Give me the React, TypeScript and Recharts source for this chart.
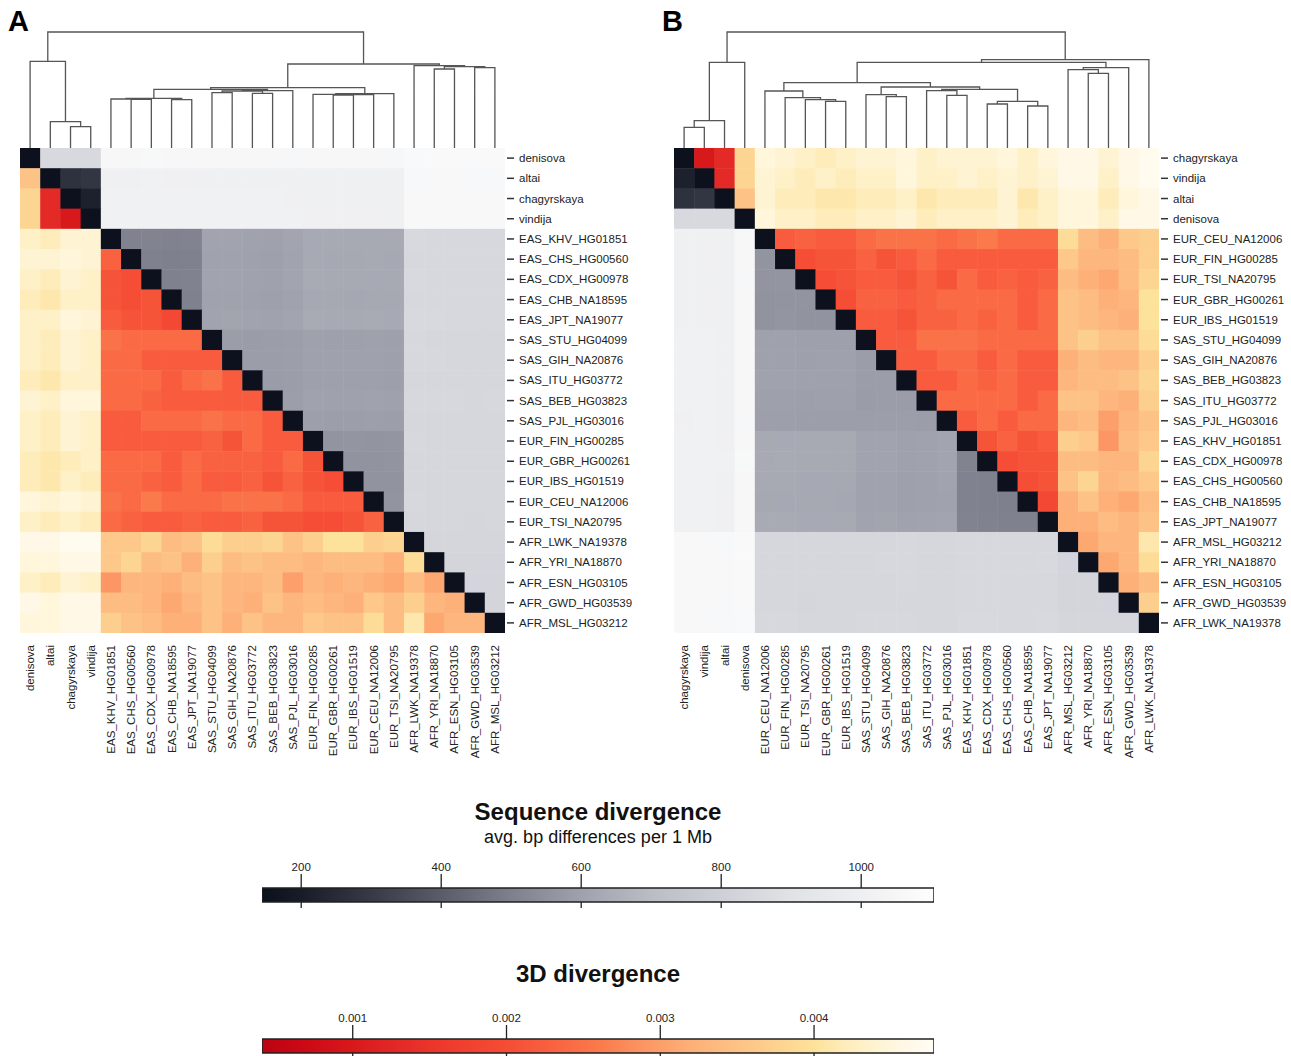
import React from "react";
import {
  ScatterChart,
  Scatter,
  XAxis,
  YAxis,
  LineChart,
  Line,
  ComposedChart,
  ReferenceArea,
} from "recharts";

// sample order of panel A (clustered on sequence divergence)
const SAMPLES_A = [
  "denisova", "altai", "chagyrskaya", "vindija",
  "EAS_KHV_HG01851", "EAS_CHS_HG00560", "EAS_CDX_HG00978", "EAS_CHB_NA18595", "EAS_JPT_NA19077",
  "SAS_STU_HG04099", "SAS_GIH_NA20876", "SAS_ITU_HG03772", "SAS_BEB_HG03823", "SAS_PJL_HG03016",
  "EUR_FIN_HG00285", "EUR_GBR_HG00261", "EUR_IBS_HG01519", "EUR_CEU_NA12006", "EUR_TSI_NA20795",
  "AFR_LWK_NA19378", "AFR_YRI_NA18870", "AFR_ESN_HG03105", "AFR_GWD_HG03539", "AFR_MSL_HG03212",
];

// sample order of panel B (clustered on 3D divergence)
const SAMPLES_B = [
  "chagyrskaya", "vindija", "altai", "denisova",
  "EUR_CEU_NA12006", "EUR_FIN_HG00285", "EUR_TSI_NA20795", "EUR_GBR_HG00261", "EUR_IBS_HG01519",
  "SAS_STU_HG04099", "SAS_GIH_NA20876", "SAS_BEB_HG03823", "SAS_ITU_HG03772", "SAS_PJL_HG03016",
  "EAS_KHV_HG01851", "EAS_CDX_HG00978", "EAS_CHS_HG00560", "EAS_CHB_NA18595", "EAS_JPT_NA19077",
  "AFR_MSL_HG03212", "AFR_YRI_NA18870", "AFR_ESN_HG03105", "AFR_GWD_HG03539", "AFR_LWK_NA19378",
];

// sequence divergence (bp per Mb), lower triangle in SAMPLES_A order: row i holds pairs with j < i
const SEQ_DIV: number[][] = [
  [],
  [848],
  [852, 272],
  [850, 285, 215],
  [1058, 1010, 1013, 1014],
  [1057, 1009, 1012, 1013, 505],
  [1059, 1011, 1014, 1015, 508, 502],
  [1058, 1010, 1013, 1014, 506, 500, 503],
  [1058, 1010, 1013, 1014, 510, 504, 507, 502],
  [1056, 1008, 1011, 1012, 606, 604, 607, 604, 608],
  [1056, 1008, 1011, 1012, 608, 605, 608, 603, 609, 588],
  [1056, 1008, 1011, 1012, 604, 601, 605, 600, 606, 586, 587],
  [1056, 1008, 1011, 1012, 600, 598, 601, 597, 603, 587, 589, 585],
  [1055, 1007, 1010, 1011, 610, 607, 610, 605, 612, 590, 590, 588, 591],
  [1056, 1006, 1009, 1010, 630, 628, 631, 626, 633, 600, 601, 598, 603, 594],
  [1056, 1006, 1009, 1010, 628, 626, 629, 624, 630, 598, 600, 596, 601, 592, 562],
  [1056, 1006, 1009, 1010, 627, 625, 628, 623, 629, 597, 599, 596, 600, 591, 563, 558],
  [1056, 1006, 1009, 1010, 629, 627, 630, 625, 631, 599, 600, 597, 602, 593, 562, 557, 558],
  [1055, 1005, 1008, 1009, 628, 626, 629, 624, 630, 597, 598, 595, 600, 591, 565, 560, 559, 560],
  [1068, 1060, 1062, 1063, 848, 846, 848, 845, 849, 842, 843, 841, 844, 840, 842, 841, 840, 842, 839],
  [1070, 1062, 1064, 1065, 847, 845, 847, 844, 848, 841, 842, 840, 843, 839, 841, 840, 839, 841, 838, 832],
  [1070, 1062, 1064, 1065, 846, 844, 846, 843, 847, 840, 841, 839, 842, 838, 840, 839, 838, 840, 837, 831, 826],
  [1069, 1061, 1063, 1064, 845, 843, 845, 842, 846, 839, 840, 838, 841, 837, 839, 838, 837, 839, 836, 832, 829, 830],
  [1069, 1061, 1063, 1064, 846, 844, 846, 843, 847, 840, 841, 839, 842, 838, 840, 839, 838, 840, 837, 833, 830, 829, 827],
];

// 3D divergence, lower triangle in SAMPLES_A order
const D3_DIV: number[][] = [
  [],
  [0.0035],
  [0.0038, 0.0013],
  [0.0038, 0.0013, 0.001],
  [0.0043, 0.0042, 0.0044, 0.0044],
  [0.0044, 0.0044, 0.0045, 0.0044, 0.0023],
  [0.0043, 0.0042, 0.0044, 0.0043, 0.0021, 0.002],
  [0.0042, 0.0041, 0.0043, 0.0043, 0.0021, 0.002, 0.0021],
  [0.0043, 0.0043, 0.0045, 0.0044, 0.0022, 0.0021, 0.0021, 0.0019],
  [0.0043, 0.0042, 0.0044, 0.0043, 0.0025, 0.0024, 0.0024, 0.0024, 0.0024],
  [0.0043, 0.0042, 0.0044, 0.0043, 0.0024, 0.0024, 0.0022, 0.0022, 0.0022, 0.0022],
  [0.0042, 0.0041, 0.0043, 0.0043, 0.0024, 0.0024, 0.0024, 0.0022, 0.0024, 0.0025, 0.0022],
  [0.0044, 0.0043, 0.0045, 0.0045, 0.0024, 0.0024, 0.0023, 0.0022, 0.0022, 0.0022, 0.0022, 0.0022],
  [0.0043, 0.0042, 0.0044, 0.0043, 0.0022, 0.0022, 0.0024, 0.0024, 0.0024, 0.0025, 0.0024, 0.0024, 0.0022],
  [0.0043, 0.0042, 0.0044, 0.0043, 0.0022, 0.0022, 0.0022, 0.0022, 0.0022, 0.0023, 0.0021, 0.0024, 0.0022, 0.0022],
  [0.0042, 0.0041, 0.0042, 0.0043, 0.0024, 0.0024, 0.0024, 0.0022, 0.0024, 0.0023, 0.0023, 0.0023, 0.0022, 0.0024, 0.0021],
  [0.0042, 0.0041, 0.0043, 0.0042, 0.0024, 0.0024, 0.0023, 0.0022, 0.0024, 0.0022, 0.0022, 0.0023, 0.0021, 0.0023, 0.0021, 0.002],
  [0.0045, 0.0044, 0.0045, 0.0044, 0.0025, 0.0024, 0.0026, 0.0024, 0.0024, 0.0024, 0.0025, 0.0025, 0.0025, 0.0024, 0.0022, 0.0022, 0.0022],
  [0.0043, 0.0042, 0.0043, 0.0042, 0.0024, 0.0023, 0.0022, 0.0022, 0.0023, 0.0022, 0.0022, 0.0023, 0.0021, 0.0021, 0.002, 0.002, 0.0021, 0.0023],
  [0.0046, 0.0046, 0.0047, 0.0047, 0.0036, 0.0036, 0.0038, 0.0034, 0.0035, 0.0039, 0.0037, 0.0037, 0.0038, 0.0035, 0.0037, 0.004, 0.004, 0.0037, 0.0038],
  [0.0045, 0.0045, 0.0046, 0.0046, 0.0036, 0.0038, 0.0034, 0.0035, 0.0032, 0.0037, 0.0034, 0.0035, 0.0034, 0.0034, 0.0033, 0.0034, 0.0034, 0.0034, 0.0032, 0.0039],
  [0.0043, 0.0042, 0.0044, 0.0043, 0.0029, 0.0033, 0.0033, 0.0032, 0.0034, 0.0035, 0.0033, 0.0033, 0.0034, 0.003, 0.0033, 0.0032, 0.0033, 0.0032, 0.0031, 0.0034, 0.0031],
  [0.0046, 0.0045, 0.0046, 0.0046, 0.0034, 0.0034, 0.0033, 0.0031, 0.0033, 0.0035, 0.0033, 0.0032, 0.0035, 0.0033, 0.0034, 0.0033, 0.0032, 0.0036, 0.0034, 0.0037, 0.0033, 0.0032],
  [0.0045, 0.0045, 0.0046, 0.0046, 0.0037, 0.0035, 0.0034, 0.0032, 0.0032, 0.0035, 0.0032, 0.0035, 0.0033, 0.0033, 0.0036, 0.0035, 0.0035, 0.0039, 0.0034, 0.0041, 0.0031, 0.0033, 0.0033],
];

// dendrograms: [left node, right node, merge height]; nodes 0-23 are leaves, 24+ earlier merges
const LINKAGE_A: [number, number, number][] = [
  [2, 3, 21.3], [1, 24, 26.3], [0, 25, 86.7],
  [5, 6, 48.7], [7, 8, 48.3], [4, 27, 49], [29, 28, 49.7],
  [9, 10, 55.3], [11, 12, 54.7], [31, 32, 57], [33, 13, 57.3],
  [15, 16, 53], [35, 17, 53.3], [14, 36, 53.7], [37, 18, 54.3],
  [30, 34, 58.7], [39, 38, 60.3],
  [20, 21, 79], [22, 23, 80.3], [41, 42, 81.3], [19, 43, 82.3],
  [40, 44, 84], [26, 45, 116],
];

const LINKAGE_B: [number, number, number][] = [
  [0, 1, 20.7], [24, 2, 27.3], [25, 3, 85.7],
  [7, 8, 46.7], [6, 27, 48.3], [5, 28, 50.3], [4, 29, 57],
  [10, 11, 51.3], [9, 31, 53.3], [13, 14, 52.7], [12, 33, 57.3],
  [15, 16, 44], [17, 18, 42], [35, 36, 46.7], [34, 37, 58.7], [32, 38, 61], [30, 39, 65.3],
  [20, 21, 74.7], [19, 41, 78.3], [42, 22, 80.3],
  [40, 43, 85.7], [44, 23, 88.3], [26, 45, 116],
];

const SEQ_TICKS = [200, 400, 600, 800, 1000];
const D3_TICKS = [0.001, 0.002, 0.003, 0.004];

const SEQ_STOP_VALUES = [144, 200, 300, 400, 500, 600, 700, 800, 900, 1000, 1104];
const SEQ_STOP_COLORS = [
  "#0c101d", "#181b28", "#373a46", "#5a5c69", "#7e808d", "#9fa1ac",
  "#bbbdc5", "#cfd0d7", "#e1e2e6", "#eeeff1", "#fefefe",
];
const D3_STOP_VALUES = [
  0.00041, 0.0007, 0.001, 0.0013, 0.0016, 0.002, 0.0023, 0.0026, 0.0029,
  0.0032, 0.0035, 0.0038, 0.004, 0.0042, 0.0044, 0.0046, 0.00478,
];
const D3_STOP_COLORS = [
  "#bb0312", "#cc0a16", "#d8191b", "#e32a27", "#ee3a2c", "#f54d36", "#f96240", "#fb7a4b", "#fc9664",
  "#fdb078", "#fdc286", "#fdd593", "#fde29c", "#feecbb", "#fef3d2", "#fff8e6", "#fffdf6",
];

const PLOT = 485;
const N = SAMPLES_A.length;
const CELL = PLOT / N;
const DIAG_COLOR = "#0d111e";
const TEXT = "#222";

const hexRgb = (h: string) => [1, 3, 5].map((k) => parseInt(h.slice(k, k + 2), 16));

function ramp(v: number, vals: number[], cols: string[]) {
  if (v <= vals[0]) return cols[0];
  if (v >= vals[vals.length - 1]) return cols[cols.length - 1];
  let i = 0;
  while (v > vals[i + 1]) i++;
  const t = (v - vals[i]) / (vals[i + 1] - vals[i]);
  const a = hexRgb(cols[i]);
  const b = hexRgb(cols[i + 1]);
  const c = a.map((x, k) => Math.round(x + (b[k] - x) * t));
  return `rgb(${c[0]},${c[1]},${c[2]})`;
}

const pairValue = (m: number[][], a: number, b: number) => m[Math.max(a, b)][Math.min(a, b)];

// seqUpper: sequence divergence in the upper triangle (panel A) or the lower one (panel B)
function buildCells(order: string[], seqUpper: boolean) {
  const cells: { x: number; y: number; fill: string }[] = [];
  order.forEach((rowName, r) => {
    order.forEach((colName, c) => {
      const a = SAMPLES_A.indexOf(rowName);
      const b = SAMPLES_A.indexOf(colName);
      let fill = DIAG_COLOR;
      if (r !== c) {
        const seq = c > r === seqUpper;
        fill = seq
          ? ramp(pairValue(SEQ_DIV, a, b), SEQ_STOP_VALUES, SEQ_STOP_COLORS)
          : ramp(pairValue(D3_DIV, a, b), D3_STOP_VALUES, D3_STOP_COLORS);
      }
      cells.push({ x: c + 0.5, y: r + 0.5, fill });
    });
  });
  return cells;
}

function dendroPoints(linkage: [number, number, number][]) {
  const nodes = SAMPLES_A.map((_, i) => ({ x: i + 0.5, h: 0 }));
  const pts: { x: number; h: number | null }[] = [];
  linkage.forEach(([l, r, h]) => {
    const L = nodes[l];
    const R = nodes[r];
    pts.push({ x: L.x, h: L.h }, { x: L.x, h }, { x: R.x, h }, { x: R.x, h: R.h }, { x: R.x, h: null });
    nodes.push({ x: (L.x + R.x) / 2, h });
  });
  return pts;
}

const CellShape = (props: any) => (
  <rect
    x={props.cx - CELL / 2}
    y={props.cy - CELL / 2}
    width={CELL + 0.5}
    height={CELL + 0.5}
    fill={props.payload.fill}
  />
);

const RightTick = ({ x, y, payload, names }: any) => (
  <g>
    <line x1={x - 12} x2={x - 5} y1={y} y2={y} stroke="#333" strokeWidth={1.5} />
    <text x={x} y={y} dy="0.35em" fontSize={11.5} fill={TEXT}>
      {names[Math.round(payload.value - 0.5)]}
    </text>
  </g>
);

const BottomTick = ({ x, y, payload, names }: any) => (
  <text
    x={x}
    y={y}
    transform={`rotate(-90, ${x}, ${y})`}
    textAnchor="end"
    dominantBaseline="central"
    fontSize={11.5}
    fill={TEXT}
  >
    {names[Math.round(payload.value - 0.5)]}
  </text>
);

const EmptyTick = () => <g />;

function Panel({ left, order, seqUpper, linkage, rightW }: any) {
  const cells = buildCells(order, seqUpper);
  const ticks = order.map((_: string, i: number) => i + 0.5);
  return (
    <>
      <div style={{ position: "absolute", left, top: 28 }}>
        <LineChart width={PLOT} height={120} margin={{ top: 0, right: 0, bottom: 0, left: 0 }}>
          <XAxis type="number" dataKey="x" domain={[0, N]} hide allowDataOverflow />
          <YAxis type="number" domain={[0, 120]} hide allowDataOverflow />
          <Line
            data={dendroPoints(linkage)}
            dataKey="h"
            stroke="#555"
            strokeWidth={1.3}
            dot={false}
            activeDot={false}
            connectNulls={false}
            isAnimationActive={false}
          />
        </LineChart>
      </div>
      <div style={{ position: "absolute", left, top: 148 }}>
        <ScatterChart width={PLOT + rightW} height={PLOT + 125} margin={{ top: 0, right: 0, bottom: 0, left: 0 }}>
          <XAxis
            type="number"
            dataKey="x"
            domain={[0, N]}
            ticks={ticks}
            interval={0}
            height={125}
            tickSize={0}
            tickMargin={12}
            tickLine={false}
            axisLine={false}
            tick={<BottomTick names={order} />}
            allowDataOverflow
          />
          <YAxis
            type="number"
            dataKey="y"
            domain={[0, N]}
            reversed
            orientation="right"
            ticks={ticks}
            interval={0}
            width={rightW}
            tickSize={10}
            tickMargin={4}
            tickLine={false}
            axisLine={false}
            tick={<RightTick names={order} />}
            allowDataOverflow
          />
          <Scatter data={cells} shape={CellShape} isAnimationActive={false} />
        </ScatterChart>
      </div>
    </>
  );
}

function ColorBar({ top, id, vals, cols, ticks, fmt }: any) {
  const domain = [vals[0], vals[vals.length - 1]];
  return (
    <div style={{ position: "absolute", left: 262, top }}>
      <ComposedChart
        width={672}
        height={58}
        margin={{ top: 0, right: 0, bottom: 0, left: 0 }}
        data={ticks.map((t: number) => ({ t, y: 0.5 }))}
      >
        <defs>
          <linearGradient id={id} x1="0" x2="1" y1="0" y2="0">
            {vals.map((v: number, i: number) => (
              <stop key={i} offset={(v - domain[0]) / (domain[1] - domain[0])} stopColor={cols[i]} />
            ))}
          </linearGradient>
        </defs>
        <XAxis
          xAxisId="top"
          orientation="top"
          type="number"
          dataKey="t"
          domain={domain}
          ticks={ticks}
          interval={0}
          height={34}
          tickSize={14}
          tickMargin={3}
          axisLine={false}
          tickLine={{ stroke: "#222", strokeWidth: 1.3 }}
          tick={{ fontSize: 11.5, fill: TEXT }}
          tickFormatter={fmt}
          allowDataOverflow
        />
        <XAxis
          xAxisId="bottom"
          orientation="bottom"
          type="number"
          dataKey="t"
          domain={domain}
          ticks={ticks}
          interval={0}
          height={10}
          tickSize={6}
          axisLine={false}
          tickLine={{ stroke: "#222", strokeWidth: 1.3 }}
          tick={<EmptyTick />}
          allowDataOverflow
        />
        <YAxis type="number" dataKey="y" hide domain={[0, 1]} allowDataOverflow />
        <ReferenceArea
          xAxisId="top"
          x1={domain[0]}
          x2={domain[1]}
          y1={0}
          y2={1}
          fill={`url(#${id})`}
          fillOpacity={1}
          stroke="#222"
          strokeWidth={1.5}
          ifOverflow="visible"
        />
      </ComposedChart>
    </div>
  );
}

const title: React.CSSProperties = {
  position: "absolute",
  left: 262,
  width: 672,
  textAlign: "center",
  color: "#111",
  lineHeight: 1,
};

export default function App() {
  return (
    <div
      style={{
        position: "absolute",
        left: 0,
        top: 0,
        width: 1291,
        height: 1056,
        overflow: "hidden",
        background: "#fff",
        fontFamily: "'Liberation Sans', Arial, sans-serif",
      }}
    >
      <div style={{ position: "absolute", left: 8, top: 5, fontSize: 29, fontWeight: 700 }}>A</div>
      <div style={{ position: "absolute", left: 662, top: 5, fontSize: 29, fontWeight: 700 }}>B</div>

      <Panel left={20} order={SAMPLES_A} seqUpper linkage={LINKAGE_A} rightW={135} />
      <Panel left={674} order={SAMPLES_B} seqUpper={false} linkage={LINKAGE_B} rightW={130} />

      <div style={{ ...title, top: 800, fontSize: 24, fontWeight: 700 }}>Sequence divergence</div>
      <div style={{ ...title, top: 828, fontSize: 18 }}>avg. bp differences per 1 Mb</div>
      <ColorBar
        top={854}
        id="seqGrad"
        vals={SEQ_STOP_VALUES}
        cols={SEQ_STOP_COLORS}
        ticks={SEQ_TICKS}
        fmt={(v: number) => String(v)}
      />

      <div style={{ ...title, top: 962, fontSize: 24, fontWeight: 700 }}>3D divergence</div>
      <ColorBar
        top={1005}
        id="d3Grad"
        vals={D3_STOP_VALUES}
        cols={D3_STOP_COLORS}
        ticks={D3_TICKS}
        fmt={(v: number) => v.toFixed(3)}
      />
    </div>
  );
}
